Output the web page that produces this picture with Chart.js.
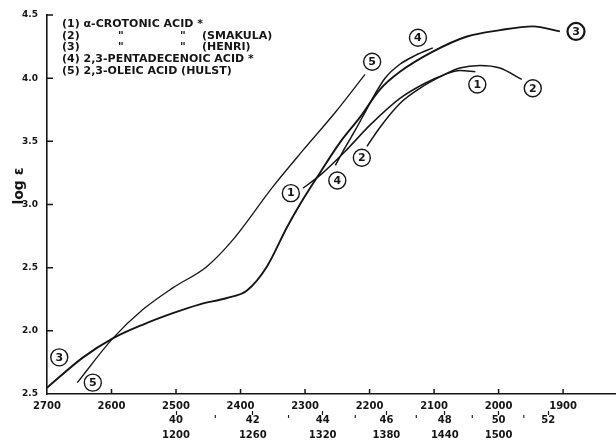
<!DOCTYPE html>
<html>
<head>
<meta charset="utf-8">
<script src="https://cdn.jsdelivr.net/npm/chart.js@4.4.0/dist/chart.umd.min.js"></script>
<style>
  html, body { margin: 0; background: #fff; }
  #wrap { width: 616px; height: 441px; }
</style>
</head>
<body>
<div id="wrap"><canvas id="chart"></canvas></div>
<script>
// wavelength axis (Å), log ε axis
const wavelengthTicks = [2700, 2600, 2500, 2400, 2300, 2200, 2100, 2000, 1900]
const logTicks = [1.5, 2.0, 2.5, 3.0, 3.5, 4.0, 4.5]
const logTickLabels = ['2.5', '2.0', '2.5', '3.0', '3.5', '4.0', '4.5']

// secondary scales: wave number (10^3 cm-1) and frequency (10^12 s-1)
const waveNumbers = [40, 41, 42, 43, 44, 45, 46, 47, 48, 49, 50, 51, 52]
const waveNumberLabels = ['40', '', '42', '', '44', '', '46', '', '48', '', '50', '', '52']
const frequencyLabels = ['1200', '', '1260', '', '1320', '', '1380', '', '1440', '', '1500', '', '']

// (1) alpha-crotonic acid
const crotonicWl = [2303, 2277, 2238, 2199, 2153, 2114, 2083, 2060, 2036]
const crotonicLog = [3.13, 3.23, 3.42, 3.63, 3.84, 3.96, 4.03, 4.06, 4.05]

// (2) crotonic acid (Smakula)
const smakulaWl = [2204, 2184, 2153, 2122, 2091, 2060, 2029, 1998, 1964]
const smakulaLog = [3.46, 3.61, 3.80, 3.92, 4.01, 4.08, 4.10, 4.08, 3.99]

// (3) crotonic acid (Henri)
const henriWl = [2700, 2644, 2598, 2551, 2505, 2463, 2421, 2390, 2359, 2328, 2308, 2277, 2246, 2215, 2184, 2153, 2102, 2049, 1998, 1947, 1905]
const henriLog = [1.55, 1.79, 1.94, 2.05, 2.14, 2.21, 2.26, 2.32, 2.51, 2.82, 3.00, 3.25, 3.49, 3.69, 3.91, 4.05, 4.21, 4.33, 4.38, 4.41, 4.37]

// (4) 2,3-pentadecenoic acid
const pentadecenoicWl = [2253, 2238, 2222, 2207, 2191, 2176, 2153, 2129, 2102]
const pentadecenoicLog = [3.31, 3.45, 3.59, 3.73, 3.88, 4.00, 4.11, 4.18, 4.24]

// (5) 2,3-oleic acid (Hulst)
const oleicWl = [2653, 2598, 2551, 2505, 2452, 2412, 2350, 2303, 2253, 2207]
const oleicLog = [1.59, 1.94, 2.17, 2.34, 2.51, 2.72, 3.14, 3.43, 3.73, 4.03]

// circled curve numbers (wavelength, log ε)
const curveLabels = [
  { text: '3', x: 2681, y: 1.79 },
  { text: '5', x: 2629, y: 1.59 },
  { text: '1', x: 2322, y: 3.09 },
  { text: '4', x: 2250, y: 3.19 },
  { text: '2', x: 2212, y: 3.37 },
  { text: '5', x: 2196, y: 4.13 },
  { text: '4', x: 2125, y: 4.32 },
  { text: '1', x: 2033, y: 3.95 },
  { text: '2', x: 1947, y: 3.92 },
  { text: '3', x: 1880, y: 4.37, bold: true }
]

const legendLines = [
  ['(1) α-CROTONIC ACID *'],
  ['(2)', '"', '"', '(SMAKULA)'],
  ['(3)', '"', '"', '(HENRI)'],
  ['(4) 2,3-PENTADECENOIC ACID *'],
  ['(5) 2,3-OLEIC ACID (HULST)']
]

const ink = '#151515'
const font = 'DejaVu Sans'

const toPoints = (xs, ys) => xs.map((x, i) => ({ x, y: ys[i] }))

const line = (label, xs, ys, width) => ({
  label,
  data: toPoints(xs, ys),
  borderColor: ink,
  borderWidth: width,
  pointRadius: 0,
  fill: false,
  cubicInterpolationMode: 'monotone'
})

const decor = {
  id: 'decor',
  afterDraw (chart) {
    const { ctx, chartArea, scales } = chart
    const x = scales.x
    const y = scales.y
    ctx.save()
    ctx.strokeStyle = ink
    ctx.fillStyle = ink
    ctx.lineWidth = 1.5

    // inward tick marks
    ctx.beginPath()
    wavelengthTicks.slice(1).forEach(v => {
      const px = x.getPixelForValue(v)
      ctx.moveTo(px, chartArea.bottom)
      ctx.lineTo(px, chartArea.bottom - 5)
    })
    logTicks.slice(1).forEach(v => {
      const py = y.getPixelForValue(v)
      ctx.moveTo(chartArea.left, py)
      ctx.lineTo(chartArea.left + 6, py)
    })
    ctx.stroke()

    // legend block
    ctx.font = `bold 11px "${font}"`
    ctx.textBaseline = 'middle'
    ctx.textAlign = 'left'
    const cols = [62, 118, 180, 202]
    legendLines.forEach((parts, i) => {
      const ty = 24 + i * 11.7
      parts.forEach((t, j) => ctx.fillText(t, cols[j], ty))
    })

    // circled numbers
    ctx.textAlign = 'center'
    curveLabels.forEach(l => {
      const px = x.getPixelForValue(l.x)
      const py = y.getPixelForValue(l.y)
      ctx.lineWidth = l.bold ? 2.2 : 1.4
      ctx.beginPath()
      ctx.arc(px, py, 8.5, 0, Math.PI * 2)
      ctx.stroke()
      ctx.font = `bold 11px "${font}"`
      ctx.fillText(l.text, px, py + 0.5)
    })

    // y title
    ctx.translate(19, 186)
    ctx.rotate(-Math.PI / 2)
    ctx.font = `bold 14px "${font}"`
    ctx.fillText('log ε', 0, 0)
    ctx.restore()
  }
}

// eslint-disable-next-line no-undef
const chart = new Chart(document.querySelector('#chart'), {
  type: 'line',
  data: {
    datasets: [
      line('(1) α-Crotonic acid', crotonicWl, crotonicLog, 1.5),
      line('(2) Smakula', smakulaWl, smakulaLog, 1.5),
      line('(3) Henri', henriWl, henriLog, 1.9),
      line('(4) 2,3-Pentadecenoic acid', pentadecenoicWl, pentadecenoicLog, 1.5),
      line('(5) 2,3-Oleic acid (Hulst)', oleicWl, oleicLog, 1.3)
    ]
  },
  options: {
    responsive: true,
    maintainAspectRatio: false,
    animation: false,
    layout: { padding: { top: 15, right: 0, left: 0, bottom: 0 } },
    scales: {
      x: {
        type: 'linear',
        reverse: true,
        min: 1818,
        max: 2700,
        afterBuildTicks: s => { s.ticks = wavelengthTicks.map(value => ({ value })) },
        afterFit: s => { s.height = 17 },
        grid: { display: false, drawTicks: false },
        border: { display: true, color: ink, width: 1.6 },
        ticks: {
          autoSkip: false,
          maxRotation: 0,
          padding: 6,
          color: ink,
          font: { family: font, weight: 'bold', size: 10 },
          callback: v => String(v)
        }
      },
      x2: {
        type: 'linear',
        position: 'bottom',
        reverse: true,
        min: 1818,
        max: 2700,
        afterBuildTicks: s => { s.ticks = waveNumbers.map(k => ({ value: 1e5 / k })) },
        afterFit: s => { s.height = 30 },
        grid: {
          display: true,
          drawOnChartArea: false,
          drawTicks: true,
          tickLength: 4,
          tickWidth: 1.2,
          tickColor: c => (c.index % 2 === 0 ? ink : 'rgba(0,0,0,0)')
        },
        border: { display: false },
        ticks: {
          autoSkip: false,
          maxRotation: 0,
          padding: 2,
          color: ink,
          font: { family: font, weight: 'bold', size: 10, lineHeight: '7.5px' },
          callback: (v, i) => {
            if (!waveNumberLabels[i]) return "'"
            return frequencyLabels[i] ? [waveNumberLabels[i], '', frequencyLabels[i]] : waveNumberLabels[i]
          }
        }
      },
      y: {
        type: 'linear',
        min: 1.5,
        max: 4.5,
        afterBuildTicks: s => { s.ticks = logTicks.map(value => ({ value })) },
        afterFit: s => { s.width = 47 },
        grid: { display: false, drawTicks: false },
        border: { display: true, color: ink, width: 1.6 },
        ticks: {
          padding: 9,
          color: ink,
          font: { family: font, weight: 'bold', size: 9 },
          callback: (v, i) => logTickLabels[i]
        }
      }
    },
    plugins: {
      legend: { display: false },
      tooltip: { enabled: false }
    }
  },
  plugins: [decor]
})
</script>
</body>
</html>
